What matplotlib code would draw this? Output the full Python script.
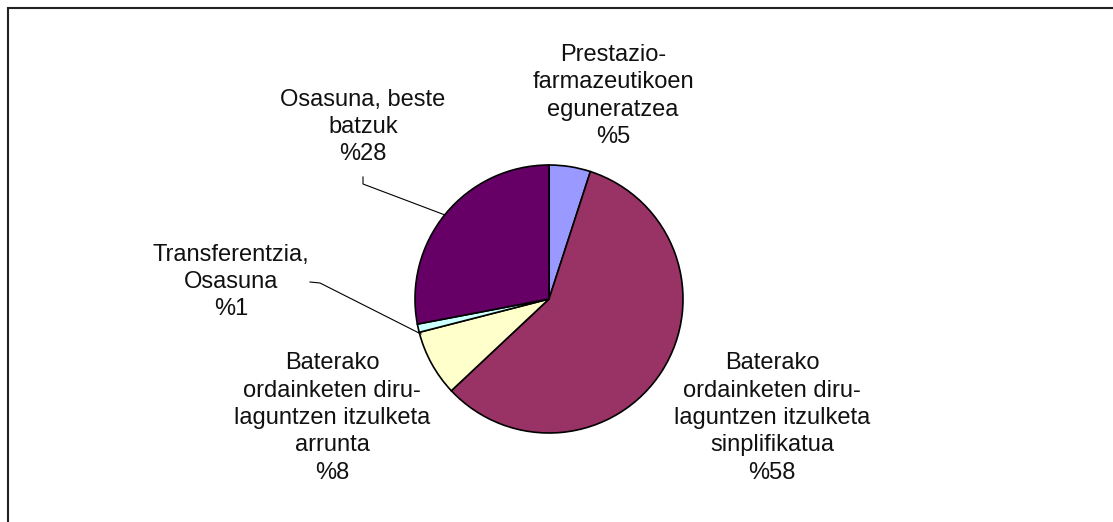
import matplotlib
matplotlib.use("Agg")
import matplotlib.pyplot as plt
from matplotlib.patches import Rectangle

# slice data, clockwise from 12 o'clock
labels = [
    "Prestazio-\nfarmazeutikoen\neguneratzea",
    "Baterako\nordainketen diru-\nlaguntzen itzulketa\nsinplifikatua",
    "Baterako\nordainketen diru-\nlaguntzen itzulketa\narrunta",
    "Transferentzia,\nOsasuna",
    "Osasuna, beste\nbatzuk",
]
values = [5, 58, 8, 1, 28]
colors = ["#9999FF", "#993366", "#FFFFCC", "#CCFFFF", "#660066"]

W, H = 1113, 522
fig = plt.figure(figsize=(W / 100, H / 100), dpi=100)
ax = fig.add_axes([0, 0, 1, 1])

cx, cy, r = 549, H - 299, 134
ax.pie(values, colors=colors, startangle=90, counterclock=False,
       center=(cx, cy), radius=r, frame=True,
       wedgeprops=dict(edgecolor="black", linewidth=1.2))
ax.set_xlim(0, W)
ax.set_ylim(0, H)
ax.set_aspect("equal")
ax.axis("off")

# chart border (only top and left visible in the crop)
ax.add_patch(Rectangle((8, -10), W + 20, H - 8 + 10, fill=False,
                       edgecolor="#222222", linewidth=1.5, zorder=0))

# label anchors (centre of text block, top-down pixel coords)
label_pos = [(613, 96), (772, 418), (332, 418), (231, 282), (363, 127)]
for lab, v, (x, y) in zip(labels, values, label_pos):
    ax.text(x, H - y, f"{lab}\n%{v}", ha="center", va="center",
            family="Liberation Sans", fontsize=17, linespacing=1.31,
            color="#111111")

# leader lines
ax.plot([363, 363, 445], [H - 177, H - 184, H - 215], color="black", lw=0.8)
ax.plot([310, 320, 421], [H - 282, H - 283, H - 334], color="black", lw=0.8)

fig.savefig("out.png", dpi=100, facecolor="white")
plt.close(fig)
